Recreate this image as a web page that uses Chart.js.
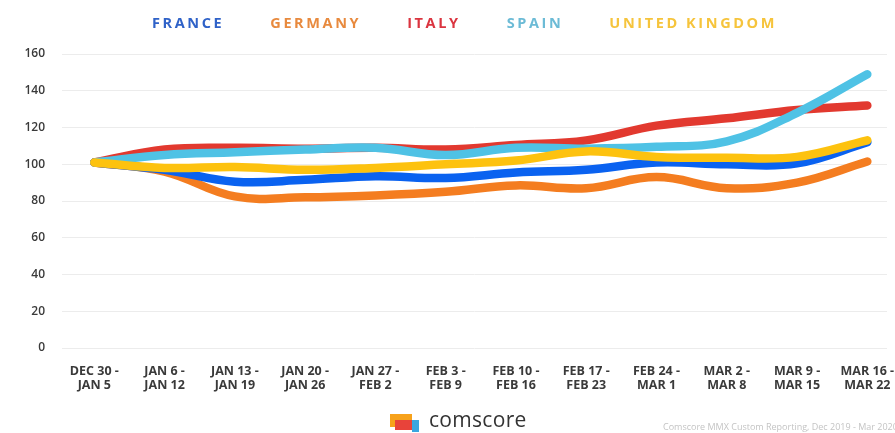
<!DOCTYPE html>
<html>
<head>
<meta charset="utf-8">
<script src="https://cdn.jsdelivr.net/npm/chart.js@4/dist/chart.umd.min.js"></script>
<style>
  html, body { margin: 0; padding: 0; background: #fff; }
  #wrap { position: relative; width: 895px; height: 433px; overflow: hidden; }
  #chart { position: absolute; left: 0; top: 0; }
  #legend {
    position: absolute; left: 152px; top: 13px;
    display: flex; gap: 46px;
    font: bold 14.5px "Open Sans", sans-serif; letter-spacing: 2.6px;
  }
  #brand { position: absolute; left: 390px; top: 411px; height: 22px; }
  #brand .blk { position: absolute; }
  #brand .word {
    position: absolute; left: 39px; top: -6px;
    font: 500 21px "Open Sans", sans-serif; color: #333; letter-spacing: 0.3px;
  }
  #source {
    position: absolute; left: 663px; top: 420px; white-space: nowrap;
    font: 9px "Open Sans", sans-serif; color: #c4c4c4;
  }
</style>
</head>
<body>
<div id="wrap">
  <canvas id="chart" width="895" height="433"></canvas>
  <div id="legend"></div>
  <div id="brand">
    <div class="blk" style="left:0;top:3px;width:22px;height:13px;background:#f7a21b"></div>
    <div class="blk" style="left:5px;top:9px;width:17px;height:10px;background:#e8433a"></div>
    <div class="blk" style="left:22px;top:9px;width:7px;height:12px;background:#3aa6e0"></div>
    <div class="word">comscore</div>
  </div>
  <div id="source">Comscore MMX Custom Reporting, Dec 2019 - Mar 2020</div>
</div>
<script>
// weekly index, week of Dec 30 = ~100
const weekLabels = [
  ["DEC 30 -", "JAN 5"], ["JAN 6 -", "JAN 12"], ["JAN 13 -", "JAN 19"],
  ["JAN 20 -", "JAN 26"], ["JAN 27 -", "FEB 2"], ["FEB 3 -", "FEB 9"],
  ["FEB 10 -", "FEB 16"], ["FEB 17 -", "FEB 23"], ["FEB 24 -", "MAR 1"],
  ["MAR 2 -", "MAR 8"], ["MAR 9 -", "MAR 15"], ["MAR 16 -", "MAR 22"]
];
const yTicks = [0, 20, 40, 60, 80, 100, 120, 140, 160];

const france  = [101, 97, 90.5, 91.5, 93.5, 92.5, 95.5, 97, 101, 100, 100.5, 112];
const germany = [101, 96, 82.5, 82, 83, 85, 88.5, 87, 93, 87, 90, 101.5];
const italy   = [101, 108, 109, 108.5, 109, 108, 110.5, 113, 121, 125, 129.5, 132];
const spain   = [101, 105, 106.5, 108, 109, 105, 109, 108.5, 109.5, 112.5, 128, 149];
const uk      = [101, 98, 98.5, 97, 98, 100, 102, 107, 104, 103.5, 104, 113];

const seriesNames  = ["FRANCE", "GERMANY", "ITALY", "SPAIN", "UNITED KINGDOM"];
const seriesValues = [france, germany, italy, spain, uk];
const lineColors   = ["#0a62f0", "#f47d20", "#e2392f", "#4fc2e5", "#fdc20f"];
const legendColors = ["#2f62c8", "#e88a3e", "#db3540", "#6cbbd6", "#f6c43c"];
const drawOrder    = [4, 5, 3, 2, 1]; // lower = drawn on top

const legendEl = document.getElementById("legend");
seriesNames.forEach((name, i) => {
  const s = document.createElement("span");
  s.textContent = name;
  s.style.color = legendColors[i];
  legendEl.appendChild(s);
});

const datasets = seriesNames.map((name, i) => ({
  label: name,
  data: seriesValues[i].map((v, k) => ({ x: k, y: v })),
  borderColor: lineColors[i],
  borderWidth: 8.5,
  borderCapStyle: "round",
  borderJoinStyle: "round",
  tension: 0.4,
  pointRadius: 0,
  order: drawOrder[i]
}));

new Chart(document.getElementById("chart"), {
  type: "line",
  data: { datasets },
  options: {
    responsive: false,
    animation: false,
    layout: { padding: { top: 54, right: 8, left: 0, bottom: 0 } },
    plugins: { legend: { display: false }, tooltip: { enabled: false } },
    scales: {
      x: {
        type: "linear",
        min: -0.46, max: 11.28,
        border: { display: false },
        grid: { display: false, drawTicks: false },
        afterFit: s => { s.height = 85; s.paddingLeft = 0; s.paddingRight = 0; },
        afterBuildTicks: s => { s.ticks = weekLabels.map((_, k) => ({ value: k })); },
        ticks: {
          autoSkip: false, maxRotation: 0, padding: 16,
          color: "#3a3a3a",
          font: { family: "Open Sans", size: 12.5, weight: "bold", lineHeight: 1.15 },
          callback: v => weekLabels[v]
        }
      },
      y: {
        min: 0, max: 160,
        border: { display: false },
        grid: { color: "#ececec", lineWidth: 1, drawTicks: false },
        afterFit: s => { s.width = 62; s.paddingTop = 0; s.paddingBottom = 0; },
        afterBuildTicks: s => { s.ticks = yTicks.map(v => ({ value: v })); },
        ticks: {
          padding: 17,
          color: "#3a3a3a",
          font: { family: "Open Sans", size: 12, weight: "600" }
        }
      }
    }
  }
});
</script>
</body>
</html>
